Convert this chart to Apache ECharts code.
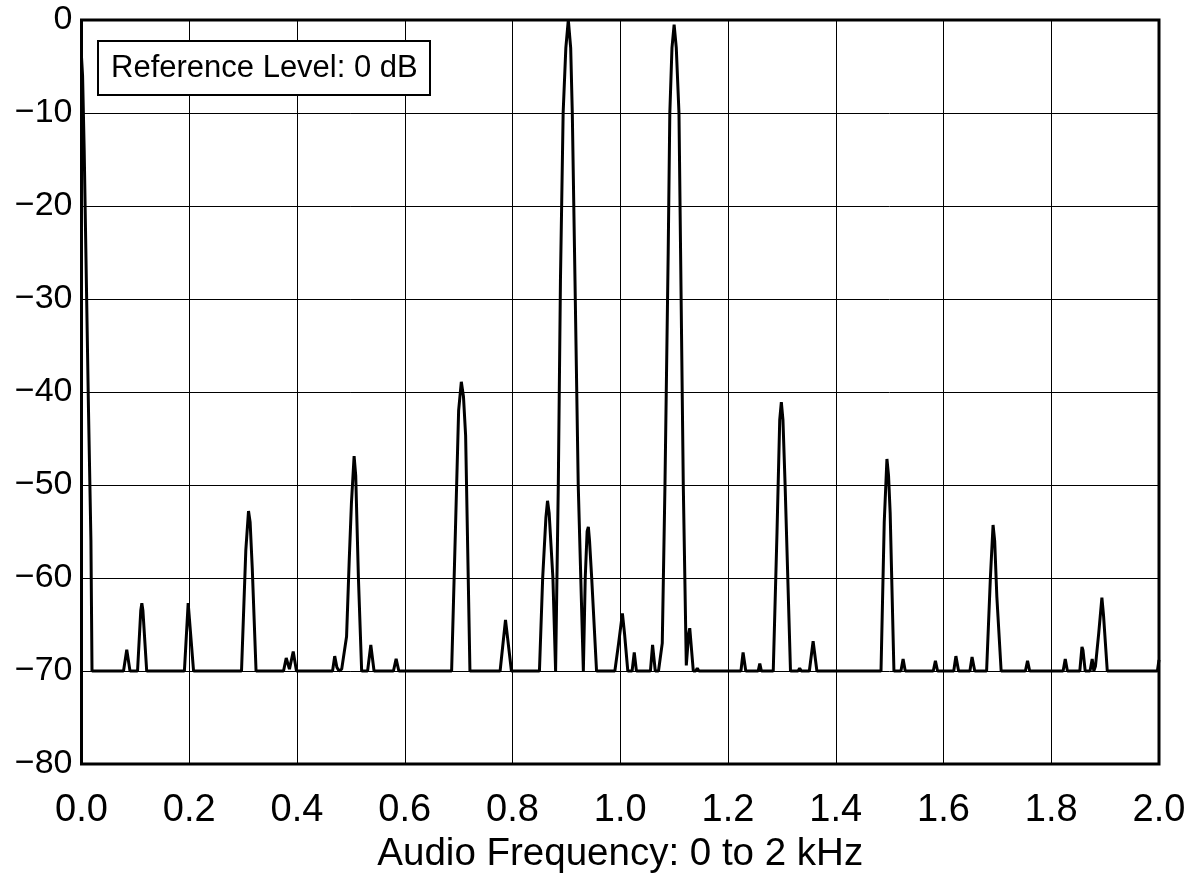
<!DOCTYPE html>
<html>
<head>
<meta charset="utf-8">
<script src="https://cdn.jsdelivr.net/npm/echarts@6/dist/echarts.min.js"></script>
<style>
html,body{margin:0;padding:0;background:#fff;}
#chart{width:1196px;height:875px;}
</style>
</head>
<body>
<div id="chart"></div>
<script>
// Frequency (kHz) and level (dB)
const freqKHz = [
  0.000, 0.002, 0.005, 0.009, 0.013, 0.0175, 0.0195,
  0.078, 0.084, 0.090,
  0.104, 0.110, 0.112, 0.114, 0.121,
  0.191, 0.198, 0.208,
  0.297, 0.305, 0.310, 0.313, 0.317, 0.324,
  0.375, 0.380, 0.386, 0.393, 0.399,
  0.466, 0.470, 0.474, 0.478, 0.483, 0.492, 0.497, 0.501, 0.506, 0.509, 0.514, 0.520,
  0.531, 0.537, 0.543,
  0.579, 0.584, 0.589,
  0.687, 0.694, 0.700, 0.705, 0.709, 0.713, 0.721,
  0.777, 0.787, 0.798,
  0.850, 0.856, 0.862, 0.865, 0.868, 0.875, 0.880,
  0.885, 0.889, 0.894, 0.899, 0.9036, 0.908, 0.911, 0.916, 0.922, 0.9315,
  0.935, 0.9385, 0.9408, 0.943, 0.947, 0.956,
  0.990, 0.997, 1.004, 1.008, 1.014,
  1.022, 1.026, 1.030,
  1.056, 1.060, 1.065,
  1.071, 1.078, 1.083, 1.089, 1.092, 1.096, 1.100, 1.104, 1.109, 1.112, 1.117, 1.1226, 1.127, 1.129, 1.1356, 1.140, 1.143, 1.146,
  1.224, 1.228, 1.233,
  1.256, 1.259, 1.262,
  1.284, 1.291, 1.296, 1.299, 1.302, 1.306, 1.316,
  1.330, 1.333, 1.336,
  1.351, 1.358, 1.365,
  1.484, 1.490, 1.495, 1.498, 1.501, 1.508,
  1.521, 1.525, 1.529,
  1.581, 1.585, 1.589,
  1.619, 1.623, 1.628,
  1.649, 1.653, 1.658,
  1.680, 1.687, 1.692, 1.695, 1.699, 1.707,
  1.752, 1.756, 1.760,
  1.822, 1.826, 1.830,
  1.853, 1.857, 1.859, 1.863,
  1.872, 1.876, 1.879, 1.882, 1.888, 1.894, 1.897, 1.904,
  1.997, 2.000
];
const levelDB = [
  -4, -6, -14, -28, -42, -56, -70,
  -70, -67.7, -70,
  -70, -63.5, -62.7, -63.5, -70,
  -70, -62.7, -70,
  -70, -57, -52.8, -54, -59, -70,
  -70, -68.6, -69.8, -67.9, -70,
  -70, -68.4, -69.6, -70, -69.8, -66.3, -58, -52, -46.9, -49, -60, -70,
  -70, -67.2, -70,
  -70, -68.7, -70,
  -70, -55, -42, -38.9, -40.5, -44.7, -70,
  -70, -64.5, -70,
  -70, -60, -53.5, -51.7, -53, -60, -70,
  -50, -28, -10, -3, 0, -3, -10, -28, -50, -70,
  -60, -55, -54.5, -56, -60, -70,
  -70, -67, -63.8, -66, -70,
  -70, -68, -70,
  -70, -67.2, -70,
  -70, -67, -50, -25, -10, -3, -0.5, -3, -10, -25, -50, -69.4, -66, -65.4, -70, -70, -69.7, -70,
  -70, -68, -70,
  -70, -69.2, -70,
  -70, -55, -43, -41.1, -43, -50, -70,
  -70, -69.7, -70,
  -70, -66.8, -70,
  -70, -54, -47.2, -49, -53, -70,
  -70, -68.7, -70,
  -70, -68.9, -70,
  -70, -68.4, -70,
  -70, -68.5, -70,
  -70, -60, -54.3, -56, -62, -70,
  -70, -68.9, -70,
  -70, -68.7, -70,
  -70, -67.4, -67.8, -70,
  -70, -68.7, -70, -69.5, -66, -62.1, -64, -70,
  -70, -68.8
];
const xTicks = [0.0, 0.2, 0.4, 0.6, 0.8, 1.0, 1.2, 1.4, 1.6, 1.8, 2.0];
const yTicks = [-80, -70, -60, -50, -40, -30, -20, -10, 0];
const xTitle = 'Audio Frequency: 0 to 2 kHz';
const refLabel = 'Reference Level: 0 dB';

const points = freqKHz.map((f, i) => [f, levelDB[i]]);
const FONT = '"Liberation Sans", Arial, Helvetica, sans-serif';

const chart = echarts.init(document.getElementById('chart'), null, {renderer: 'canvas'});
chart.setOption({
  animation: false,
  backgroundColor: '#fff',
  title: {
    text: refLabel,
    left: 98, top: 41,
    padding: [10, 13, 10, 13],
    borderColor: '#000', borderWidth: 2,
    backgroundColor: '#fff',
    textStyle: {fontFamily: FONT, fontSize: 31, fontWeight: 'normal', color: '#000', lineHeight: 34}
  },
  grid: {
    left: 81.5, right: 37, top: 20, bottom: 111,
    outerBoundsMode: 'none', containLabel: false,
    show: true, borderColor: '#000', borderWidth: 3, backgroundColor: 'transparent'
  },
  xAxis: {
    type: 'value', min: xTicks[0], max: xTicks[xTicks.length - 1], interval: 0.2,
    name: xTitle, nameLocation: 'middle', nameGap: 68,
    nameTextStyle: {fontFamily: FONT, fontSize: 38.5, color: '#000'},
    axisLine: {show: false}, axisTick: {show: false},
    axisLabel: {fontFamily: FONT, fontSize: 38, color: '#000', margin: 28,
      formatter: v => v.toFixed(1)},
    splitLine: {show: true, lineStyle: {color: '#000', width: 1}}
  },
  yAxis: {
    type: 'value', min: yTicks[0], max: yTicks[yTicks.length - 1], interval: 10,
    axisLine: {show: false}, axisTick: {show: false},
    axisLabel: {fontFamily: FONT, fontSize: 34, color: '#000', margin: 9,
      formatter: v => String(v).replace('-', '\u2212')},
    splitLine: {show: true, lineStyle: {color: '#000', width: 1}}
  },
  series: [{
    type: 'line', data: points, showSymbol: false, symbol: 'none',
    lineStyle: {color: '#000', width: 3}, clip: true, z: 3
  }]
});
</script>
</body>
</html>
